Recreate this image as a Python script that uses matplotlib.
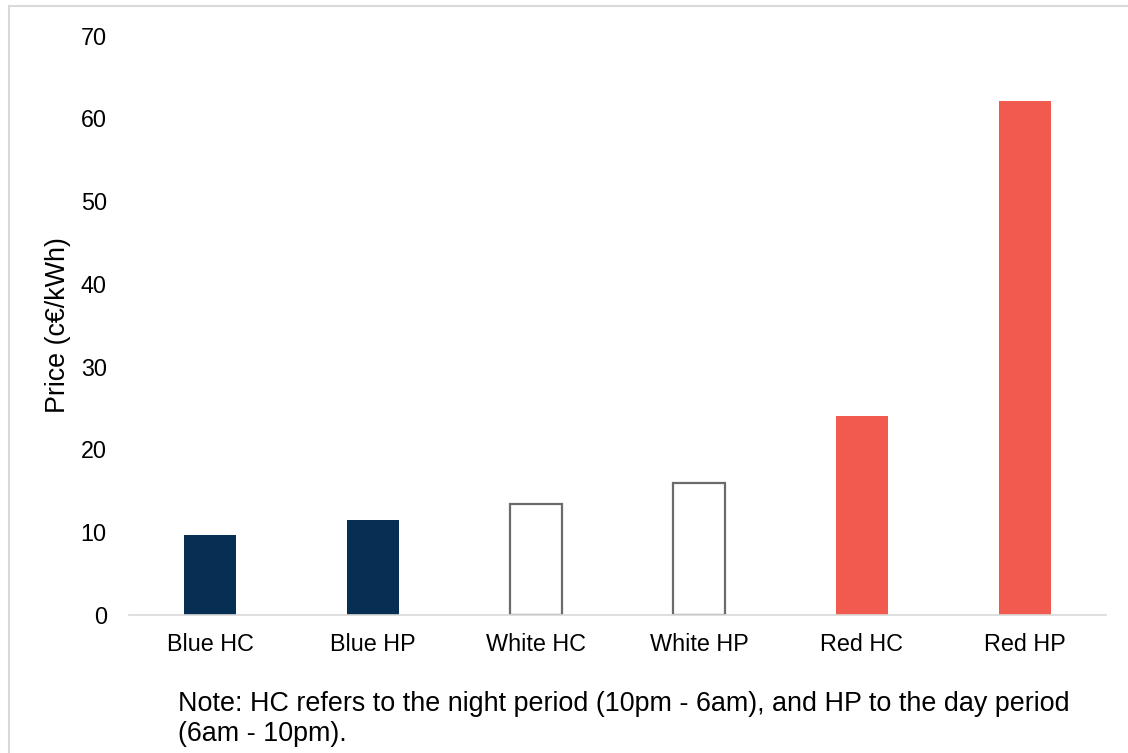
import matplotlib
matplotlib.use("Agg")
import matplotlib.pyplot as plt
from matplotlib.lines import Line2D

plt.rcParams['font.family'] = ['Liberation Sans', 'DejaVu Sans']

# Tariff periods and prices (c€/kWh)
categories = ["Blue HC", "Blue HP", "White HC", "White HP", "Red HC", "Red HP"]
prices = [9.6, 11.4, 13.4, 15.9, 24.0, 62.1]
fill_colors = ["#072F54", "#072F54", "white", "white", "#F05A4F", "#F05A4F"]
edge_colors = ["#072F54", "#072F54", "#6B6B6B", "#6B6B6B", "#F05A4F", "#F05A4F"]
y_ticks = [0, 10, 20, 30, 40, 50, 60, 70]
note = ("Note: HC refers to the night period (10pm - 6am), and HP to the day period\n"
        "(6am - 10pm).")

W, H = 1128, 753
fig = plt.figure(figsize=(W / 100, H / 100), dpi=100)
ax = fig.add_axes([129 / W, 1 - 614.6 / H, (1106 - 129) / W, (614.6 - 35.8) / H])

x = range(len(categories))
for xi, val, fc, ec in zip(x, prices, fill_colors, edge_colors):
    lw = 1.6 if fc == "white" else 0
    ax.bar(xi, val, width=0.32, color=fc, edgecolor=ec, linewidth=lw, zorder=2)

ax.set_xlim(-0.5, len(categories) - 0.5)
ax.set_ylim(0, 70)
ax.set_yticks(y_ticks)
ax.set_xticks(list(x))
ax.set_xticklabels(categories)
ax.tick_params(axis='both', length=0, labelsize=16.8, colors='black')
ax.tick_params(axis='y', pad=16)
ax.tick_params(axis='x', pad=13)
for side in ["top", "right", "left"]:
    ax.spines[side].set_visible(False)
ax.spines["bottom"].set_color("#D9D9D9")
ax.spines["bottom"].set_linewidth(1.2)
ax.spines["bottom"].set_zorder(3)

ax.set_ylabel("Price (c€/kWh)", fontsize=19.4)
ax.yaxis.set_label_coords((71 - 129) / 977, 0.5)

fig.text(178 / W, 1 - 691 / H, note, fontsize=19.4, ha='left', va='top',
         linespacing=1.2)

# Light frame along the left and top edges of the figure
fig.add_artist(Line2D([9 / W, 9 / W], [0, 1 - 6 / H], transform=fig.transFigure,
                      color="#D9D9D9", linewidth=1.5))
fig.add_artist(Line2D([9 / W, 1], [1 - 6 / H, 1 - 6 / H], transform=fig.transFigure,
                      color="#D9D9D9", linewidth=1.5))

fig.savefig("out.png", dpi=100)
